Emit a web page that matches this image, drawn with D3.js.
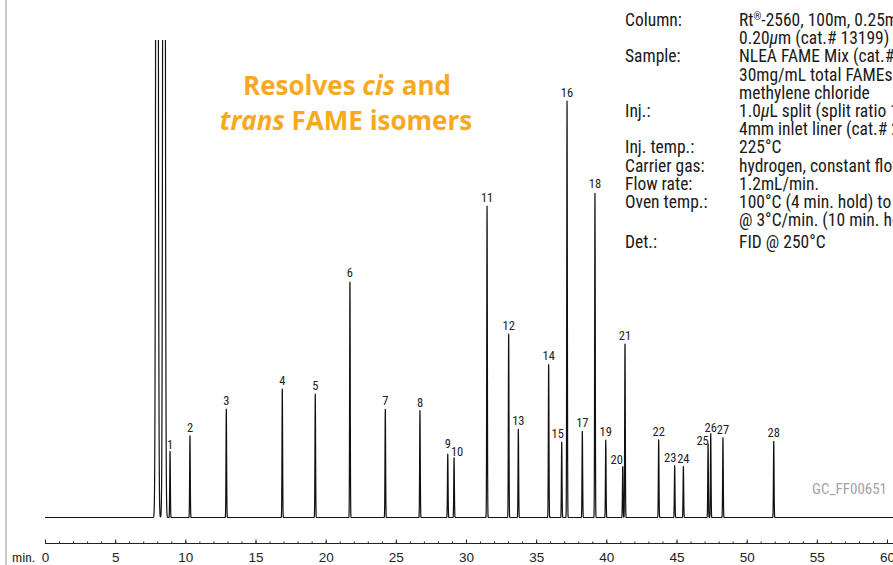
<!DOCTYPE html>
<html>
<head>
<meta charset="utf-8">
<script src="https://cdn.jsdelivr.net/npm/d3@7"></script>
<style>
  html, body { margin: 0; padding: 0; background: #fff; overflow: hidden; }
  svg { display: block; }
  .narrow { font-family: "Liberation Sans Narrow", "Arial Narrow", "Roboto Condensed", sans-serif; }
</style>
</head>
<body>
<svg id="chart" width="893" height="565"></svg>
<script>
// Peak table: FAME peak numbers, retention times (min) and detector response (relative units)
const peakIds = [1, 2, 3, 4, 5, 6, 7, 8, 9, 10, 11, 12, 13, 14, 15, 16, 17, 18, 19, 20, 21, 22, 23, 24, 25, 26, 27, 28];
const retentionTimes = [8.91, 10.33, 12.92, 16.91, 19.26, 21.73, 24.25, 26.72, 28.70, 29.15,
                        31.50, 33.04, 33.73, 35.89, 36.82, 37.20, 38.29, 39.19, 39.96, 41.17,
                        41.33, 43.73, 44.87, 45.49, 47.25, 47.44, 48.31, 51.93];
const responses = [13.3, 16.4, 21.7, 25.8, 24.7, 47.3, 21.7, 21.4, 12.7, 12.0,
                   62.3, 36.7, 17.7, 30.7, 15.1, 83.3, 17.3, 65.1, 15.5, 10.2,
                   34.8, 15.6, 10.4, 10.2, 14.8, 16.8, 16.0, 15.3];

// Solvent (methylene chloride) peaks, far off scale
const solventTimes = [7.98, 8.48];
const solventResponses = [400, 400];

// Time axis ticks
const majorTicks = [0, 5, 10, 15, 20, 25, 30, 35, 40, 45, 50, 55, 60];
const minorTicks = d3.range(0, 61, 1);

// Analytical conditions
const specLabels = ["Column:", "", "Sample:", "", "", "Inj.:", "", "Inj. temp.:", "Carrier gas:", "Flow rate:", "Oven temp.:", "", "Det.:"];
const specValues = [
  "Rt®-2560, 100m, 0.25mm ID,",
  "0.20μm (cat.# 13199)",
  "NLEA FAME Mix (cat.# 35078),",
  "30mg/mL total FAMEs in",
  "methylene chloride",
  "1.0μL split (split ratio 100:1),",
  "4mm inlet liner (cat.# 20814)",
  "225°C",
  "hydrogen, constant flow",
  "1.2mL/min.",
  "100°C (4 min. hold) to 240°C",
  "@ 3°C/min. (10 min. hold)",
  "FID @ 250°C"
];

// ---- layout ----
const svg = d3.select("#chart");
const W = 893, H = 565;
const x = d3.scaleLinear().domain([0, 60]).range([45, 887]);
const y = d3.scaleLinear().domain([0, 100]).range([517.5, 17.5]);
const axisY = 543.5;
const traceTop = 40;

// small nudges for crowded peak labels [dx, dy]
const labelNudge = { 1: [0, 2], 9: [0, -2], 10: [3, 2], 15: [-4, 0], 20: [-6, 1], 23: [-4.5, 0], 25: [-5.5, 5], 26: [0, 2], 27: [0, 0] };

// left rule
svg.append("rect").attr("x", 5).attr("y", 0).attr("width", 2).attr("height", H).attr("fill", "#c9c9c9");

// ---- chromatogram trace ----
svg.append("defs").append("clipPath").attr("id", "plotClip")
  .append("rect").attr("x", x(0)).attr("y", traceTop).attr("width", W - x(0)).attr("height", axisY - traceTop);

const peaks = retentionTimes.map((t, i) => ({ t, h: responses[i], s: 0.022 }))
  .concat(solventTimes.map((t, i) => ({ t, h: solventResponses[i], s: 0.06 })));

const times = d3.range(0, 61.5, 0.004);
const trace = times.map(t => {
  let v = 0;
  for (const p of peaks) {
    const d = (t - p.t) / p.s;
    if (Math.abs(d) < 8) v += p.h * Math.exp(-0.5 * d * d);
  }
  return [t, v];
});

svg.append("path")
  .attr("clip-path", "url(#plotClip)")
  .attr("d", d3.line().x(d => x(d[0])).y(d => y(d[1]))(trace))
  .attr("fill", "none")
  .attr("stroke", "#111")
  .attr("stroke-width", 1.2)
  .attr("stroke-linejoin", "round");

// ---- peak labels ----
svg.append("g").attr("class", "narrow")
  .selectAll("text").data(peakIds).join("text")
  .attr("x", (d, i) => x(retentionTimes[i]) + (labelNudge[d] ? labelNudge[d][0] : 0))
  .attr("y", (d, i) => y(responses[i]) - 4 + (labelNudge[d] ? labelNudge[d][1] : 0))
  .attr("text-anchor", "middle")
  .attr("font-size", 12.5)
  .attr("fill", "#222")
  .text(d => d);

// ---- time axis ----
const axisG = svg.append("g").attr("class", "narrow").attr("transform", `translate(0,${axisY})`);
axisG.append("g")
  .call(d3.axisBottom(x).tickValues(minorTicks).tickSize(-2).tickFormat(""))
  .call(g => g.select(".domain").remove())
  .call(g => g.selectAll("line").attr("stroke", "#222"));
axisG.append("g")
  .call(d3.axisBottom(x).tickValues(majorTicks).tickSizeInner(-4).tickSizeOuter(0).tickPadding(8.5).tickFormat(d3.format("d")))
  .call(g => g.select(".domain").attr("d", `M${x(0)},0H${W}`).attr("stroke", "#222").attr("stroke-width", 1.2))
  .call(g => g.selectAll("line").attr("stroke", "#222"))
  .call(g => g.selectAll("text").attr("font-size", 13.5).attr("fill", "#222").attr("font-family", null));
axisG.append("text").attr("x", 12).attr("y", 18).attr("font-size", 13.5).attr("fill", "#222").text("min.");

// ---- headline ----
const orange = "#f8a91f";
const head = svg.append("g").attr("font-family", "'Open Sans', sans-serif").attr("font-weight", 700)
  .attr("font-size", 26).attr("fill", orange).attr("text-anchor", "middle");
const l1 = head.append("text").attr("x", 347).attr("y", 95);
l1.append("tspan").text("Resolves ");
l1.append("tspan").attr("font-style", "italic").text("cis");
l1.append("tspan").text(" and");
const l2 = head.append("text").attr("x", 346).attr("y", 130);
l2.append("tspan").attr("font-style", "italic").text("trans");
l2.append("tspan").text(" FAME isomers");

// ---- conditions block ----
const spec = svg.append("g").attr("class", "narrow").attr("font-size", 17.5).attr("fill", "#1a1a1a");
const rowY = i => (i < 12 ? 26 + i * 18.2 : 26 + 11 * 18.2 + 22);
spec.selectAll("text.lab").data(specLabels).join("text").attr("class", "lab")
  .attr("x", 625).attr("y", (d, i) => rowY(i)).text(d => d);
spec.selectAll("text.val").data(specValues).join("text").attr("class", "val")
  .attr("x", 739).attr("y", (d, i) => rowY(i))
  .each(function (d) {
    const t = d3.select(this);
    let afterSup = false;
    d.split(/([®μ])/).filter(s => s.length).forEach(part => {
      let span;
      if (part === "®") span = t.append("tspan").attr("font-size", 10).attr("dy", -6).text("®");
      else if (part === "μ") span = t.append("tspan").attr("font-style", "italic").text("μ");
      else span = t.append("tspan").text(part);
      if (afterSup) span.attr("dy", 6);
      afterSup = part === "®";
    });
  });

// chromatogram id
svg.append("text").attr("class", "narrow").attr("x", 887).attr("y", 494).attr("text-anchor", "end")
  .attr("font-size", 15).attr("fill", "#a3a3a3").text("GC_FF00651");
</script>
</body>
</html>
